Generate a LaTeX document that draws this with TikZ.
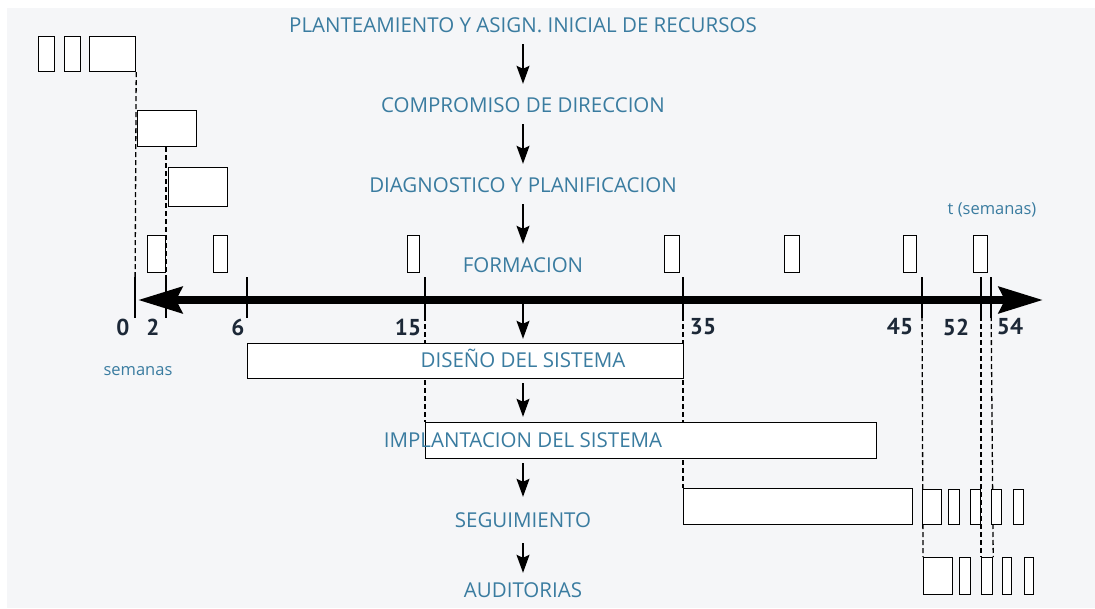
\documentclass[tikz,border=0pt]{standalone}
\usepackage{fontspec}
\setmainfont{Open Sans}
\newfontfamily\cifras{PT Sans}
\usetikzlibrary{positioning,arrows.meta}
\pgfdeclarelayer{fondo}
\pgfsetlayers{fondo,main}
\definecolor{azul}{RGB}{58,124,160}
\definecolor{tinta}{RGB}{28,40,55}
\definecolor{gris}{RGB}{245,246,248}

\begin{document}
\begin{tikzpicture}[x=1pt, y=1pt, node distance=80pt, on grid,
    fase/.style={text=azul, font=\fontsize{20.5}{22}\selectfont, inner sep=0pt, text height=14pt, text depth=0pt},
    nota/.style={text=azul, font=\fontsize{16.5}{18}\selectfont, inner sep=0pt},
    num/.style={text=tinta, font=\cifras\fontsize{23}{25}\selectfont\bfseries, inner sep=0pt},
    barra/.style={draw=black, fill=white, line width=1.2pt, inner sep=0pt, anchor=north west},
    guia/.style={dash pattern=on 5pt off 3pt, line width=1.3pt},
    marca/.style={line width=1.2pt},
    eje/.style={line width=8pt, {Stealth[length=44pt,width=26pt,inset=6pt]}-{Stealth[length=44pt,width=26pt,inset=6pt]}},
    flecha/.style={-{Stealth[length=18pt,width=13pt,inset=3pt]}, line width=1.3pt, shorten <=12pt, shorten >=14pt}]
    \useasboundingbox (0,0) rectangle (1095,-608);

    % cajas
    \foreach \a/\b [count=\i] in {38/54, 64/80, 89/135}
        \node[barra, minimum width={(\b-\a)*1pt}, minimum height=35pt] (p\i) at (\a,-36) {};
    \node[barra, minimum width=59pt, minimum height=36pt] (cb) at (137,-110) {};
    \node[barra, minimum width=59pt, minimum height=39pt] (db) at (168,-167) {};
    \foreach \a/\b [count=\i] in {147/165, 213/227, 407/419, 664/679, 784/799, 903/916, 973/987}
        \node[barra, minimum width={(\b-\a)*1pt}, minimum height=37pt] (f\i) at (\a,-235) {};
    \node[barra, minimum width=436pt, minimum height=35pt] (eb) at (247,-343) {};
    \node[barra, minimum width=451pt, minimum height=36pt] (ib) at (425,-422) {};
    \node[barra, minimum width=229pt, minimum height=36pt] (sb) at (683,-488) {};
    \foreach \a/\b [count=\i] in {922/941, 948/959, 970/980, 991/1001, 1013/1023}
        \node[barra, minimum width={(\b-\a)*1pt}, minimum height=35pt] (s\i) at (\a,-489) {};
    \foreach \a/\b [count=\i] in {923/952, 959/970, 981/992, 1002/1011, 1024/1033}
        \node[barra, minimum width={(\b-\a)*1pt}, minimum height=37pt] (a\i) at (\a,-557) {};

    % fases
    \node[fase] (plan) at (523,-25) {PLANTEAMIENTO Y ASIGN. INICIAL DE RECURSOS};
    \node[fase] (comp) [below=of plan] {COMPROMISO DE DIRECCION};
    \node[fase] (diag) [below=of comp] {DIAGNOSTICO Y PLANIFICACION};
    \node[fase] (form) [below=of diag] {FORMACION};
    \node[fase] (dise) [below=95pt of form] {DISEÑO DEL SISTEMA};
    \node[fase] (impl) [below=of dise] {IMPLANTACION DEL SISTEMA};
    \node[fase] (segu) [below=of impl] {SEGUIMIENTO};
    \node[fase] (audi) [below=70pt of segu] {AUDITORIAS};

    \node[nota] (tsem) at (992,-210) {t (semanas)};
    \node[nota] (sem) at (138,-371) {semanas};

    \path[flecha]
    (plan) edge (comp)
    (comp) edge (diag)
    (diag) edge (form)
    (form) edge[shorten <=32pt] (dise)
    (dise) edge[shorten <=16pt, shorten >=16pt] (impl)
    (impl) edge[shorten <=16pt, shorten >=16pt] (segu)
    (segu) edge[shorten <=16pt, shorten >=10pt] (audi);

    % eje de tiempo
    \coordinate (izq) at (138,-300);
    \coordinate (der) at (1043,-300);
    \draw[eje] (izq) -- (der);
    \foreach \x/\n/\l in {135/0/123, 166/2/153, 247/6/238, 425/15/408, 683/35/703, 922/45/900, 981/52/956, 991/54/1010} {
        \coordinate (t\n) at (\x,-300);
        \draw[marca] (\x,-277) -- (\x,-318);
        \node[num] (n\n) at (\l,-327) {\n};
    }

    \begin{pgfonlayer}{fondo}
        \fill[white] (0,0) rectangle (1095,-608);
        \fill[gris] (7,-8) rectangle (1095,-608);
        \draw[guia] (p3.south east) -- (t0);
        \draw[guia] (t2 |- cb.south) -- (t2);
        \draw[guia] (t15) -- (ib.north west);
        \draw[guia] (t35) -- (sb.north west);
        \draw[guia] (t45) -- (a1.north west);
        \draw[guia] (t52) -- (a3.north west);
        \draw[guia] (t54) -- (a3.north east);
    \end{pgfonlayer}
\end{tikzpicture}
\end{document}
